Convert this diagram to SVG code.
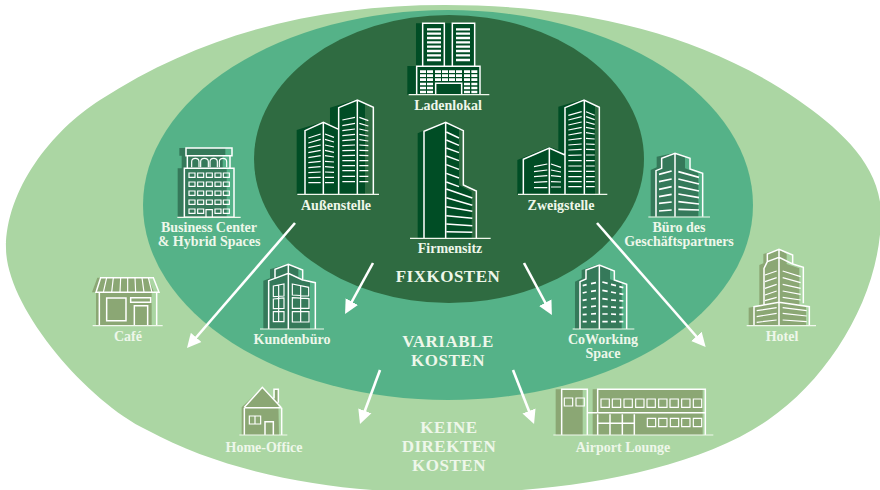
<svg xmlns="http://www.w3.org/2000/svg" width="880" height="490" viewBox="0 0 880 490">
<defs>
<marker id="ah" markerUnits="userSpaceOnUse" markerWidth="16" markerHeight="16" viewBox="0 0 16 16" refX="10" refY="8" orient="auto"><path d="M0 1 L14 8 L0 15 Z" fill="#fff"/></marker>
</defs>
<style>
.l{font-family:"Liberation Serif","Times New Roman",serif;font-weight:700;font-size:14px;fill:#eef7ea;text-anchor:middle}
.b{font-size:17px;letter-spacing:.5px}
.w{fill:none;stroke:#fff;stroke-width:4.5;stroke-linejoin:miter}
.t{fill:none;stroke:#fff;stroke-width:3.5}
.g{fill:none;stroke:#f0f7ec;stroke-width:3.5}
.s1{fill:#004d25}.s2{fill:#35795a}.s3{fill:#8ba774}
#connectors path{fill:none;stroke:#fff;stroke-width:2.6;marker-end:url(#ah)}
</style>
<path fill="#abd6a3" d="M6 248C6 190 51 131 100 100C205 32 320 5 445 5C570 5 696 29 798 100C839 128.500 881 165 881 215C881 293 832 376 768 420C690 474 553 493 448 493C348 493 235 478 147 430C85 400 6 306 6 248Z"/>
<ellipse cx="448" cy="205" rx="305" ry="195" fill="#55b288"/>
<ellipse cx="449" cy="159" rx="195" ry="144" fill="#2f6b41"/>

<g id="ladenlokal"><g transform="translate(280 10) scale(.33333)">
<path class="s1" d="M408 40H584V168H600V254H382V168H408Z"/>
<path class="w" d="M428 168V40H493V168M517 168V40H584V168M410 254V169H600V254M467 254V220H545V254"/>
<path class="g" d="M386 254H628"/>
<path class="w" style="stroke-width:7" d="M441 58h42M441 71h42M441 84h42M441 97h42M441 110h42M441 123h42M441 136h42M441 150h42M528 58h42M528 71h42M528 84h42M528 97h42M528 110h42M528 123h42M528 136h42M528 150h42"/>
<path class="w" style="stroke-width:8" d="M420 185h18M441 185h18M465 185h18M486 185h18M507 185h18M528 185h18M552 185h18M574 185h18M420 197h18M441 197h18M465 197h18M486 197h18M507 197h18M528 197h18M552 197h18M574 197h18M420 209h18M441 209h18M465 209h18M486 209h18M507 209h18M528 209h18M552 209h18M574 209h18M420 222h18M441 222h18M552 222h18M574 222h18M420 234h18M441 234h18M552 234h18M574 234h18M420 246h18M441 246h18M552 246h18M574 246h18"/>
</g><text class="l" x="448" y="110">Ladenlokal</text></g>

<g id="aussenstelle"><g transform="translate(280 10) scale(.33333)">
<path class="s1" d="M50 553V360L130 335L150 345V293L232 268L255 282V553Z"/>
<path class="w" d="M75 553V362L130 337L176 358M176 553V293L232 270L280 292V553M130 337V553M232 270V553"/>
<path class="g" d="M52 553H297"/>
<path class="t" d="M85 384L122 372M85 399L122 388M85 413L122 405M85 428L122 421M85 443L122 437M85 458L122 454M85 473L122 470M85 488L122 486M85 503L122 502M85 518L122 518M135 372L162 382M135 388L162 396M135 405L162 411M135 421L162 427M135 437L162 441M135 454L162 456M135 470L162 472M135 486L162 487M135 502L162 502M135 518L162 518M187 330L225 322M187 347L225 340M187 362L225 357M187 377L225 373M187 392L225 389M187 407L225 405M187 422L225 421M187 437L225 436M187 452L225 452M187 467L225 467M187 482L225 482M187 499L225 499M187 515L225 515M238 322L265 332M238 340L265 348M238 357L265 363M238 373L265 378M238 389L265 393M238 405L265 407M238 421L265 422M238 436L265 437M238 452L265 452M238 467L265 467M238 482L265 482M238 499L265 499M238 515L265 515"/>
</g><text class="l" x="336" y="210">Außenstelle</text></g>

<g id="firmensitz"><g transform="translate(280 10) scale(.33333)">
<path class="s1" d="M413 685V370L495 335L537 358V525L575 545V685Z"/>
<path class="w" d="M432 685V364L497 337L550 362V525L589 543V685M497 337V685"/>
<path class="g" d="M390 685H632"/>
<path class="w" d="M499 366L537 384M499 390L537 406M499 414L537 428M499 438L537 452M499 464L537 478M499 490L537 504M499 516L537 530M499 537L577 564M499 563L577 586M499 590L577 604M499 617L577 625M499 642L577 647M499 665L577 667"/>
</g><text class="l" x="450" y="253">Firmensitz</text></g>

<g id="zweigstelle"><g transform="translate(280 10) scale(.33333)">
<path class="s1" d="M712 553V450L808 410L835 420V290L911 268L945 285V553Z"/>
<path class="w" d="M730 553V448L808 414L855 435M855 553V293L912 270L958 292V553M808 414V553M913 270V553"/>
<path class="g" d="M714 553H982"/>
<path class="t" d="M865 316L905 305M865 330L905 320M865 345L905 336M865 360L905 352M865 375L905 368M865 390L905 385M865 405L905 402M865 420L905 418M865 436L905 435M865 452L905 452M865 468L905 468M865 484L905 484M865 500L905 500M865 515L905 515M865 530L905 530M918 305L944 316M918 320L944 329M918 336L944 343M918 352L944 357M918 368L944 372M918 385L944 387M918 402L944 403M918 418L944 419M918 435L944 435M918 452L944 452M918 468L944 468M918 484L944 484M918 500L944 500M918 515L944 515M918 530L944 530M762 470L802 462M762 485L802 480M762 500L802 497M762 517L802 515M762 533L802 533M813 462L843 472M813 480L843 486M813 497L843 500M813 515L843 516M813 531L843 531"/>
</g><text class="l" x="561" y="210">Zweigstelle</text></g>

<g id="business-center"><g transform="translate(80 140) scale(.33333)">
<path class="s2" d="M298 24H436V47H428V85H440V232H293V85H305V47H298Z"/>
<path class="w" d="M318 24H456V47H318ZM322 47V85M450 47V85M313 85H462V232H313Z"/>
<path class="g" d="M292 232H482"/>
<path class="t" d="M335 82V65Q335 55 346 55Q357 55 357 65V82M362 82V65Q362 55 373 55Q385 55 385 65V82M390 82V65Q390 55 401 55Q412 55 412 65V82M418 82V65Q418 55 429 55Q440 55 440 65V82"/>
<path class="t" d="M327 99h18v13h-18zM353 99h18v13h-18zM379 99h18v13h-18zM405 99h18v13h-18zM430 99h18v13h-18zM327 126h18v13h-18zM353 126h18v13h-18zM379 126h18v13h-18zM405 126h18v13h-18zM430 126h18v13h-18zM327 153h18v13h-18zM353 153h18v13h-18zM379 153h18v13h-18zM405 153h18v13h-18zM430 153h18v13h-18zM327 180h18v13h-18zM353 180h18v13h-18zM379 180h18v13h-18zM405 180h18v13h-18zM430 180h18v13h-18zM327 207h18v13h-18zM353 207h18v13h-18zM405 207h18v13h-18zM430 207h18v13h-18zM378 232V209H397V232"/>
</g><text class="l" x="209" y="232">Business Center</text><text class="l" x="209" y="246">&amp; Hybrid Spaces</text></g>

<g id="kundenbuero"><g transform="translate(80 140) scale(.33333)">
<path class="s2" d="M550 567V422L570 415V388L625 371L655 385V412L690 425V567Z"/>
<path class="w" d="M566 567V422L585 415V388L625 373L668 390V420L706 428V567M625 373V567M585 415L625 400L668 420"/>
<path class="g" d="M540 567H732"/>
<path class="t" d="M580 438L612 432V468L580 470ZM580 477L612 474V505L580 506ZM580 515H612V545H580ZM596 436V545M637 432L686 442V468L637 465ZM637 473L687 476V505L637 505ZM637 515H687V546H637ZM662 438V546"/>
</g><text class="l" x="292" y="344">Kundenbüro</text></g>

<g id="cafe"><g transform="translate(80 140) scale(.33333)">
<path class="s3" d="M52 413H205L222 457H215V557H48V457H36Z"/>
<path class="w" d="M62 413H220L237 457H48ZM58 457V557M230 457V557M80 474H138V542H80ZM152 473H212V487H152ZM163 557V497H203V557"/>
<path class="t" d="M80 413L70 457M100 413L95 457M122 413L120 457M143 413L143 457M165 413L167 457M186 413L192 457M205 413L216 457"/>
<path class="g" d="M38 557H248"/>
</g><text class="l" x="128" y="341">Café</text></g>

<g id="buero-geschaeftspartners"><g transform="translate(560 140) scale(.33333)">
<path class="s2" d="M272 230V90L290 82V50L345 38L375 50V85L415 100V230Z"/>
<path class="w" d="M288 230V92L305 85V55L345 40L390 55V87L428 100V230M345 40V230"/>
<path class="g" d="M265 231H450"/>
<path class="t" style="stroke-width:5" d="M297 103L335 93M297 125L335 117M297 148L335 140M297 170L335 163M297 190L335 186M297 213L335 210M355 95L417 112M355 117L417 132M355 140L417 153M355 162L417 173M355 185L417 192M355 208L417 210"/>
</g><text class="l" x="679" y="232">Büro des</text><text class="l" x="679" y="246">Geschäftspartners</text></g>

<g id="coworking"><g transform="translate(560 140) scale(.33333)">
<path class="s2" d="M45 567V425L65 415V390L118 373L150 390V418L185 430V567Z"/>
<path class="w" d="M60 567V425L78 417V390L118 375L163 393V420L200 433V567M118 375V567"/>
<path class="g" d="M38 567H223"/>
<path class="t" style="stroke-width:5" d="M68 437L80 434M93 431L108 428M68 459L80 456M93 454L108 452M68 481L80 479M93 477L108 475M68 503L80 501M93 500L108 498M68 524L80 523M93 522L108 521M68 545L80 545M93 545L108 545M127 426L143 430M153 433L168 437M178 440L190 443M127 451L143 454M153 456L168 459M178 461L190 463M127 476L143 478M153 480L168 481M178 482L190 483M127 499L143 500M153 501L168 502M178 503L190 503M127 522L143 522M153 522L168 523M178 523L190 523M127 545H143M153 545H168M178 545H190"/>
</g><text class="l" x="603" y="344">CoWorking</text><text class="l" x="603" y="358">Space</text></g>

<g id="hotel"><g transform="translate(560 140) scale(.33333)">
<path class="s3" d="M566 555V503L598 497V375L610 370V342L657 328L680 342V372L718 385V495L738 500V555Z"/>
<path class="w" d="M622 365V342L657 328L698 345V372M612 495V385L622 365M698 372L730 382V490M582 555V500L657 487L748 500V555M657 328V555M622 365L657 352L698 372"/>
<path class="g" d="M560 557H768"/>
<path class="t" d="M615 405L650 393M615 425L650 413M615 445L650 433M615 465L650 453M615 482L650 472M668 393L722 410M668 413L722 428M668 433L722 445M668 453L722 463M668 472L722 480M590 512L650 503M590 530L650 520M590 547L650 540M668 503L740 512M668 520L740 528M668 540L740 545"/>
</g><text class="l" x="782" y="341">Hotel</text></g>

<g id="home-office"><g transform="translate(210 370) scale(.33333)">
<path class="s3" d="M95 195V112L157 52L195 90V60H205V100L207 195Z"/>
<path class="w" d="M103 112L157 52L213 112M192 85V58H205V98M103 113H215M103 113V195M215 113V195M165 195V155H190V195"/>
<path class="t" d="M118 138H152V162H118ZM135 138V162"/>
<path class="g" d="M88 195H232"/>
</g><text class="l" x="264" y="452">Home-Office</text></g>

<g id="airport-lounge"><g transform="translate(210 370) scale(.33333)">
<path class="s3" d="M1037 58H1118V195H1037ZM1148 58H1478V195H1148Z"/>
<path class="w" d="M1055 195V58H1132V195M1163 128V58H1486V195M1132 128H1486M1163 195V133M1163 160H1273M1200 133V195M1237 133V195M1273 133V195"/>
<path class="t" d="M1063 84h25v24h-25zM1098 84h25v24h-25zM1173 87h25v25h-25zM1207 87h25v25h-25zM1242 87h25v25h-25zM1277 87h25v25h-25zM1311 87h25v25h-25zM1346 87h25v25h-25zM1380 87h25v25h-25zM1415 87h25v25h-25zM1450 87h25v25h-25zM1312 145h25v25h-25zM1346 145h25v25h-25zM1381 145h25v25h-25zM1415 145h25v25h-25zM1450 145h25v25h-25z"/>
<path class="g" d="M1030 195H1510"/>
</g><text class="l" x="623" y="452">Airport Lounge</text></g>

<g id="connectors">
<path d="M295 223L189.6 345"/>
<path d="M373 263L347 310.5"/>
<path d="M524 263L550 311.5"/>
<path d="M597 223L703 344"/>
<path d="M380 370L361.4 420.2"/>
<path d="M513 370L532.6 420.3"/>
</g>

<g id="labels">
<text class="l b" x="448" y="282">FIXKOSTEN</text>
<text class="l b" x="448" y="347">VARIABLE</text>
<text class="l b" x="448" y="366">KOSTEN</text>
<text class="l b" x="449" y="433">KEINE</text>
<text class="l b" x="449" y="452">DIREKTEN</text>
<text class="l b" x="449" y="471">KOSTEN</text>
</g>
</svg>
